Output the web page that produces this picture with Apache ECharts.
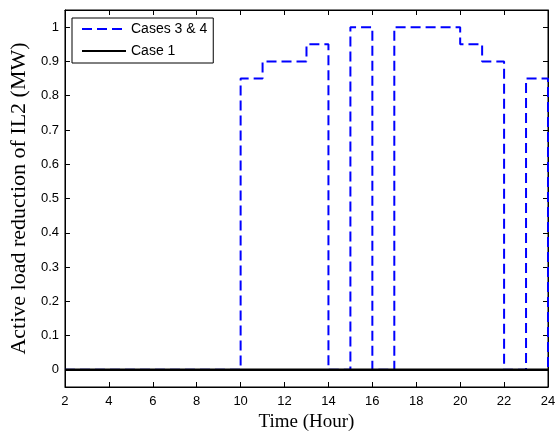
<!DOCTYPE html>
<html>
<head>
<meta charset="utf-8">
<script src="https://cdn.jsdelivr.net/npm/echarts@6/dist/echarts.min.js"></script>
<style>html,body{margin:0;padding:0;background:#fff}#c{width:560px;height:437px}</style>
</head>
<body>
<div id="c"></div>
<script>
const hours = [2,3,4,5,6,7,8,9,10,11,12,13,14,15,16,17,18,19,20,21,22,23,24];
const case34 = [0,0,0,0,0,0,0,0,0.85,0.9,0.9,0.95,0,1,0,1,1,1,0.95,0.9,0,0.85,0];
const case1 = [0,0,0,0,0,0,0,0,0,0,0,0,0,0,0,0,0,0,0,0,0,0,0];
const yTicks = [0,0.1,0.2,0.3,0.4,0.5,0.6,0.7,0.8,0.9,1];
const seriesNames = ['Cases 3 & 4','Case 1'];

const chart = echarts.init(document.getElementById('c'), null, {renderer:'canvas'});
const fmtY = v => String(Math.round(v*10)/10);
const tickFont = {color:'#000', fontFamily:'Liberation Sans, Arial, sans-serif', fontSize:13};
const nameFontX = {color:'#000', fontFamily:'Liberation Serif, Times New Roman, serif', fontSize:19};
const nameFontY = {color:'#000', fontFamily:'Liberation Serif, Times New Roman, serif', fontSize:22};
chart.setOption({
  animation:false,
  backgroundColor:'#fff',
  grid:{left:64, right:12, top:10, bottom:45, show:true, borderColor:'#000', borderWidth:1, backgroundColor:'#fff'},
  legend:{
    left:72, top:18, orient:'vertical', itemWidth:44, itemHeight:14, itemGap:8,
    itemStyle:{opacity:0},
    backgroundColor:'#fff', borderColor:'#000', borderWidth:1, borderRadius:0,
    padding:[4,6,5,9],
    textStyle:{color:'#000', fontFamily:'Liberation Sans, Arial, sans-serif', fontSize:14},
    data:seriesNames
  },
  xAxis:[
    {type:'value', min:2, max:24, interval:2, position:'bottom',
     name:'Time (Hour)', nameLocation:'middle', nameGap:26, nameTextStyle:nameFontX,
     axisLine:{onZero:false, lineStyle:{color:'#000', width:1}},
     axisTick:{inside:true, length:5, lineStyle:{color:'#000'}},
     axisLabel:Object.assign({margin:8}, tickFont),
     splitLine:{show:false}},
    {type:'value', min:2, max:24, interval:2, position:'top',
     axisLine:{onZero:false, lineStyle:{color:'#000', width:1}},
     axisTick:{inside:true, length:5, lineStyle:{color:'#000'}},
     axisLabel:{show:false}, splitLine:{show:false}}
  ],
  yAxis:[
    {type:'value', min:-0.05, max:1.05, position:'left',
     name:'Active load reduction of IL2 (MW)', nameLocation:'middle', nameGap:28, nameTextStyle:nameFontY,
     axisLine:{show:true, onZero:false, lineStyle:{color:'#000', width:1}},
     axisTick:{show:true, inside:true, length:5, customValues:yTicks, lineStyle:{color:'#000'}},
     axisLabel:Object.assign({margin:6, customValues:yTicks, formatter:fmtY}, tickFont),
     splitLine:{show:false}},
    {type:'value', min:-0.05, max:1.05, position:'right',
     axisLine:{show:true, onZero:false, lineStyle:{color:'#000', width:1}},
     axisTick:{show:true, inside:true, length:5, customValues:yTicks, lineStyle:{color:'#000'}},
     axisLabel:{show:false}, splitLine:{show:false}}
  ],
  series:[
    {name:seriesNames[0], type:'line', step:'end', symbol:'none', xAxisIndex:0, yAxisIndex:0,
     data:hours.map((h,i)=>[h,case34[i]]),
     lineStyle:{color:'#0000ff', width:2, type:[10,5]}, itemStyle:{color:'#0000ff'}, z:2},
    {name:seriesNames[1], type:'line', step:'end', symbol:'none', xAxisIndex:0, yAxisIndex:0,
     data:hours.map((h,i)=>[h,case1[i]]),
     lineStyle:{color:'#000', width:2.5}, itemStyle:{color:'#000'}, z:3}
  ]
});
</script>
</body>
</html>
